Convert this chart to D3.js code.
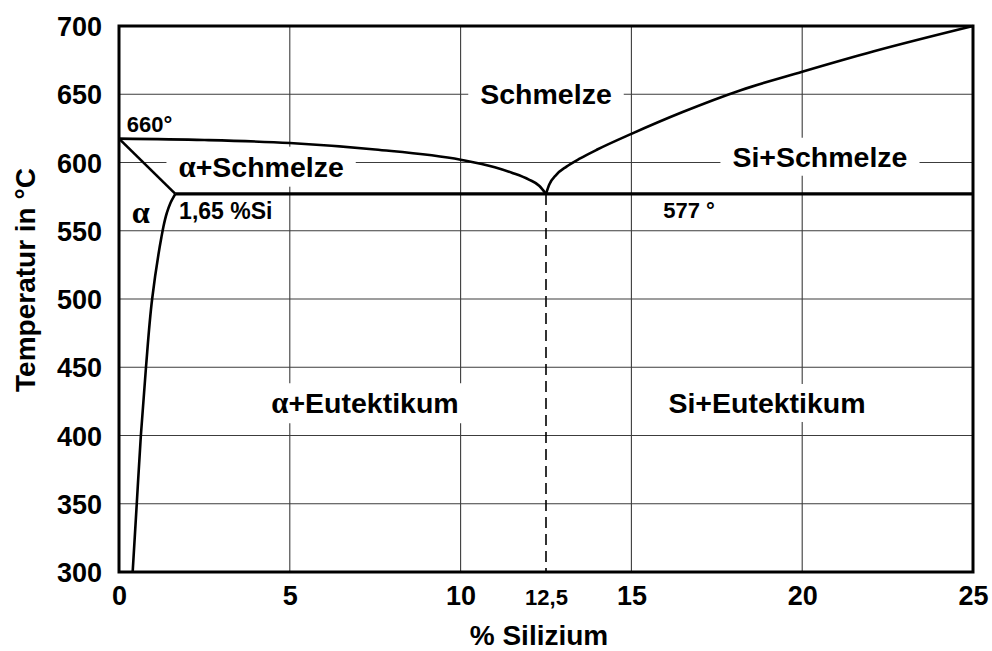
<!DOCTYPE html>
<html>
<head>
<meta charset="utf-8">
<script src="https://cdn.jsdelivr.net/npm/d3@7"></script>
<style>
  html, body { margin: 0; padding: 0; background: #fff; }
  svg { display: block; }
  text { font-family: "Liberation Sans", Arial, sans-serif; font-weight: bold; fill: #000; }
  .greek { font-family: "Liberation Serif", "Times New Roman", serif; font-weight: bold; }
</style>
</head>
<body>
<svg id="chart" width="992" height="651"></svg>
<script>
// Al–Si phase diagram (Aluminium–Silizium)

const xTicks = [0, 5, 10, 15, 20, 25];
const yTicks = [300, 350, 400, 450, 500, 550, 600, 650, 700];
const eutecticSi = 12.5;        // % Si
const eutecticT = 577;          // °C
const alphaMaxSi = 1.65;        // max. solubility of Si in α

// Liquidus, α side: [% Si, °C]
const liquidusAl = [
  [0, 617.5], [2.5, 616.5], [5, 614.3], [7.5, 609.5], [10, 602],
  [11, 596.5], [11.5, 592.5], [12, 587.5], [12.3, 583], [12.5, 577]
];
// Liquidus, Si side
const liquidusSi = [
  [12.5, 577], [12.6, 584], [12.8, 591], [13.1, 597], [13.5, 603],
  [14, 609.5], [15, 621], [16.5, 637], [18.2, 653], [20, 666.5],
  [22.1, 681.5], [25, 700]
];
// Solidus line of α (from melting point to the max. solubility point)
const solidusAl = [[0, 617.5], [1.65, 577]];
// Solvus of α (solubility of Si in α vs. temperature)
const solvusAl = [
  [1.65, 577], [1.5, 570], [1.4, 563], [1.3, 553], [1.24, 545],
  [0.97, 500], [0.79, 450], [0.64, 400], [0.52, 350], [0.40, 300]
];

// Region labels: text parts, anchor [% Si, °C]
const regionLabels = [
  { parts: [["", "Schmelze"]], at: [12.5, 642.9] },
  { parts: [["α", ""], ["", "+Schmelze"]], at: [4.16, 589.6] },
  { parts: [["", "Si+Schmelze"]], at: [20.52, 596.9] },
  { parts: [["α", ""], ["", "+Eutektikum"]], at: [7.2, 416.3] },
  { parts: [["", "Si+Eutektikum"]], at: [18.97, 416.5] }
];
const noteLabels = [
  { parts: [["", "660°"]], at: [0.23, 622.1], size: 22 },
  { parts: [["", "1,65 %Si"]], at: [1.76, 558.6], size: 23 },
  { parts: [["", "577 °"]], at: [15.93, 559.6], size: 22 },
  { parts: [["α", ""]], at: [0.37, 555.7], size: 30 }
];

const margin = { left: 119, right: 19, top: 26, bottom: 79 };
const W = 992, H = 651;
const svg = d3.select("#chart");

const x = d3.scaleLinear().domain([0, 25]).range([margin.left, W - margin.right]);
const y = d3.scaleLinear().domain([300, 700]).range([H - margin.bottom, margin.top]);

// grid
const grid = svg.append("g").attr("stroke", "#3c3c3c").attr("stroke-width", 1.1);
grid.selectAll("line.v").data(xTicks.slice(1, -1)).join("line")
  .attr("x1", d => x(d)).attr("x2", d => x(d))
  .attr("y1", y(300)).attr("y2", y(700));
grid.selectAll("line.h").data(yTicks.slice(1, -1)).join("line")
  .attr("x1", x(0)).attr("x2", x(25))
  .attr("y1", d => y(d)).attr("y2", d => y(d));

function drawLabel(g, lab, size, anchor) {
  const t = g.append("text")
    .attr("x", x(lab.at[0])).attr("y", y(lab.at[1]))
    .attr("font-size", size)
    .attr("text-anchor", anchor);
  lab.parts.forEach(([greek, latin]) => {
    if (greek) t.append("tspan").attr("class", "greek").attr("font-size", size * 1.08).text(greek);
    if (latin) t.append("tspan").text(latin);
  });
  return t;
}

// region labels on white backings
const labelLayer = svg.append("g");
regionLabels.forEach(lab => {
  const g = labelLayer.append("g");
  const t = drawLabel(g, lab, 28.5, "middle");
  const bb = t.node().getBBox();
  g.insert("rect", "text")
    .attr("x", bb.x - 12).attr("y", bb.y - 3)
    .attr("width", bb.width + 24).attr("height", bb.height + 6)
    .attr("fill", "#fff");
});

// dashed eutectic composition line
svg.append("line")
  .attr("x1", x(eutecticSi)).attr("x2", x(eutecticSi))
  .attr("y1", y(eutecticT)).attr("y2", y(300))
  .attr("stroke", "#000").attr("stroke-width", 1.6)
  .attr("stroke-dasharray", "11,6");

// phase boundaries
const lineXY = d3.line().x(d => x(d[0])).y(d => y(d[1]));
const curves = svg.append("g").attr("fill", "none").attr("stroke", "#000")
  .attr("stroke-width", 2.6).attr("stroke-linejoin", "round");
curves.append("path").attr("d", lineXY.curve(d3.curveMonotoneX)(liquidusAl));
curves.append("path").attr("d", lineXY.curve(d3.curveMonotoneX)(liquidusSi));
curves.append("path").attr("d", lineXY.curve(d3.curveLinear)(solidusAl));
curves.append("path").attr("d", lineXY.curve(d3.curveMonotoneY)(solvusAl));
curves.append("line")
  .attr("x1", x(alphaMaxSi)).attr("x2", x(25))
  .attr("y1", y(eutecticT)).attr("y2", y(eutecticT))
  .attr("stroke-width", 3.2);

// notes
noteLabels.forEach(lab => drawLabel(svg.append("g"), lab, lab.size, "start"));

// frame
svg.append("rect")
  .attr("x", x(0)).attr("y", y(700))
  .attr("width", x(25) - x(0)).attr("height", y(300) - y(700))
  .attr("fill", "none").attr("stroke", "#000").attr("stroke-width", 3);

// axes
const xAxis = svg.append("g").attr("transform", `translate(0,${y(300)})`)
  .call(d3.axisBottom(x).tickValues(xTicks).tickSize(0).tickPadding(33).tickFormat(d3.format("d")));
xAxis.append("g").call(d3.axisBottom(x).tickValues([eutecticSi]).tickSize(0).tickPadding(33)
  .tickFormat(d => String(d).replace(".", ",")))
  .selectAll("text").attr("font-size", 22);
xAxis.selectAll(".domain").remove();
xAxis.selectAll(":scope > .tick text").attr("font-size", 27);
xAxis.selectAll("text").attr("fill", "#000").attr("font-family", null).attr("dy", null);

const yAxis = svg.append("g").attr("transform", `translate(${x(0)},0)`)
  .call(d3.axisLeft(y).tickValues(yTicks).tickSize(0).tickPadding(17));
yAxis.selectAll(".domain").remove();
yAxis.selectAll("text").attr("font-size", 27).attr("fill", "#000")
  .attr("font-family", null).attr("dy", "0.36em");

// axis titles
svg.append("text")
  .attr("x", 539).attr("y", 645)
  .attr("text-anchor", "middle").attr("font-size", 28)
  .text("% Silizium");
svg.append("text")
  .attr("transform", "translate(35,280) rotate(-90)")
  .attr("text-anchor", "middle").attr("font-size", 28)
  .text("Temperatur in °C");
</script>
</body>
</html>
